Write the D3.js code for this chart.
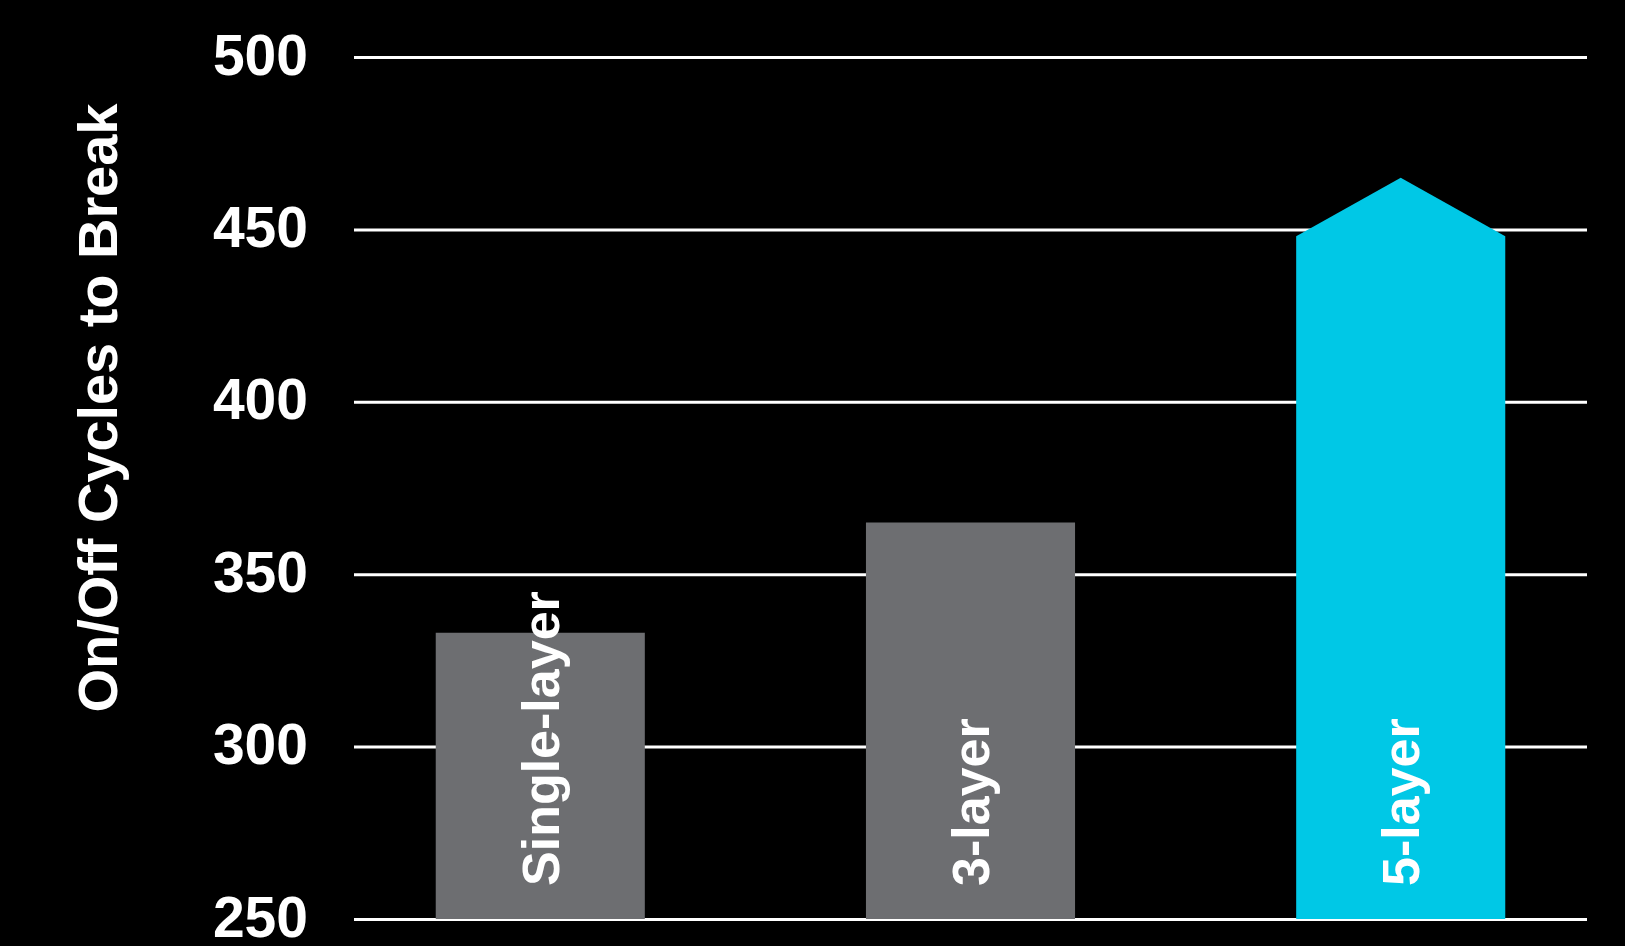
<!DOCTYPE html>
<html>
<head>
<meta charset="utf-8">
<script src="https://cdn.jsdelivr.net/npm/d3@7"></script>
<style>
    html, body { margin: 0; padding: 0; background: #000; }
    svg { display: block; }
</style>
</head>
<body>
<div id="bar-chart"></div>
<script>
// Dữ liệu
const categories = ['Single-layer', '3-layer', '5-layer'];
const values = [333, 365, 448];
const arrowPeak = [null, null, 465]; // cột cuối có mũi tên vượt thang
const barColors = ['#6d6e71', '#6d6e71', '#00c8e6'];
const yTicks = [250, 300, 350, 400, 450, 500];
const yLabel = 'On/Off Cycles to Break';

function renderBarChart() {
    const width = 1625;
    const height = 946;
    const margin = { top: 57, right: 38, bottom: 27, left: 354 };

    const svg = d3
        .select('#bar-chart')
        .append('svg')
        .attr('width', width)
        .attr('height', height)
        .style('background', '#000');

    const innerW = width - margin.left - margin.right;
    const innerH = height - margin.top - margin.bottom;

    const g = svg.append('g').attr('transform', `translate(${margin.left}, ${margin.top})`);

    // Scale
    const x = d3
        .scaleBand()
        .domain(categories)
        .range([0, innerW])
        .paddingInner(0.514)
        .paddingOuter(0.19);

    const y = d3.scaleLinear().domain([250, 500]).range([innerH, 0]);

    // Lưới ngang + nhãn trục Y
    const yAxis = g
        .append('g')
        .call(d3.axisLeft(y).tickValues(yTicks).tickSize(-innerW).tickPadding(46));
    yAxis.select('.domain').remove();
    yAxis.selectAll('.tick line').attr('stroke', '#fff').attr('stroke-width', 3);
    yAxis
        .selectAll('.tick text')
        .attr('fill', '#fff')
        .attr('dy', '0.3em')
        .style('font-family', 'Liberation Sans, Arial, sans-serif')
        .style('font-weight', 'bold')
        .style('font-size', '57px');

    // Vẽ các cột
    const line = d3.line();
    g.selectAll('.bar')
        .data(categories)
        .enter()
        .append('path')
        .attr('class', 'bar')
        .attr('fill', (d, i) => barColors[i])
        .attr('d', (d, i) => {
            const x0 = x(d);
            const x1 = x0 + x.bandwidth();
            const yTop = y(values[i]);
            const yBase = y(250);
            if (arrowPeak[i] != null) {
                return line([[x0, yBase], [x0, yTop], [x0 + x.bandwidth() / 2, y(arrowPeak[i])], [x1, yTop], [x1, yBase]]) + 'Z';
            }
            return line([[x0, yBase], [x0, yTop], [x1, yTop], [x1, yBase]]) + 'Z';
        });

    // Nhãn trong cột
    g.selectAll('.bar-label')
        .data(categories)
        .enter()
        .append('text')
        .attr('class', 'bar-label')
        .attr('transform', d => `translate(${x(d) + x.bandwidth() / 2}, ${y(250) - 33}) rotate(-90)`)
        .attr('dy', '0.36em')
        .attr('text-anchor', 'start')
        .attr('fill', '#fff')
        .style('font-family', 'Liberation Sans, Arial, sans-serif')
        .style('font-weight', 'bold')
        .style('font-size', '52px')
        .text(d => d);

    // Tiêu đề trục Y
    svg.append('text')
        .attr('transform', `translate(117, 408) rotate(-90)`)
        .attr('text-anchor', 'middle')
        .attr('fill', '#fff')
        .style('font-family', 'Liberation Sans, Arial, sans-serif')
        .style('font-weight', 'bold')
        .style('font-size', '56px')
        .attr('textLength', 609)
        .attr('lengthAdjust', 'spacing')
        .text(yLabel);
}

renderBarChart();
</script>
</body>
</html>
